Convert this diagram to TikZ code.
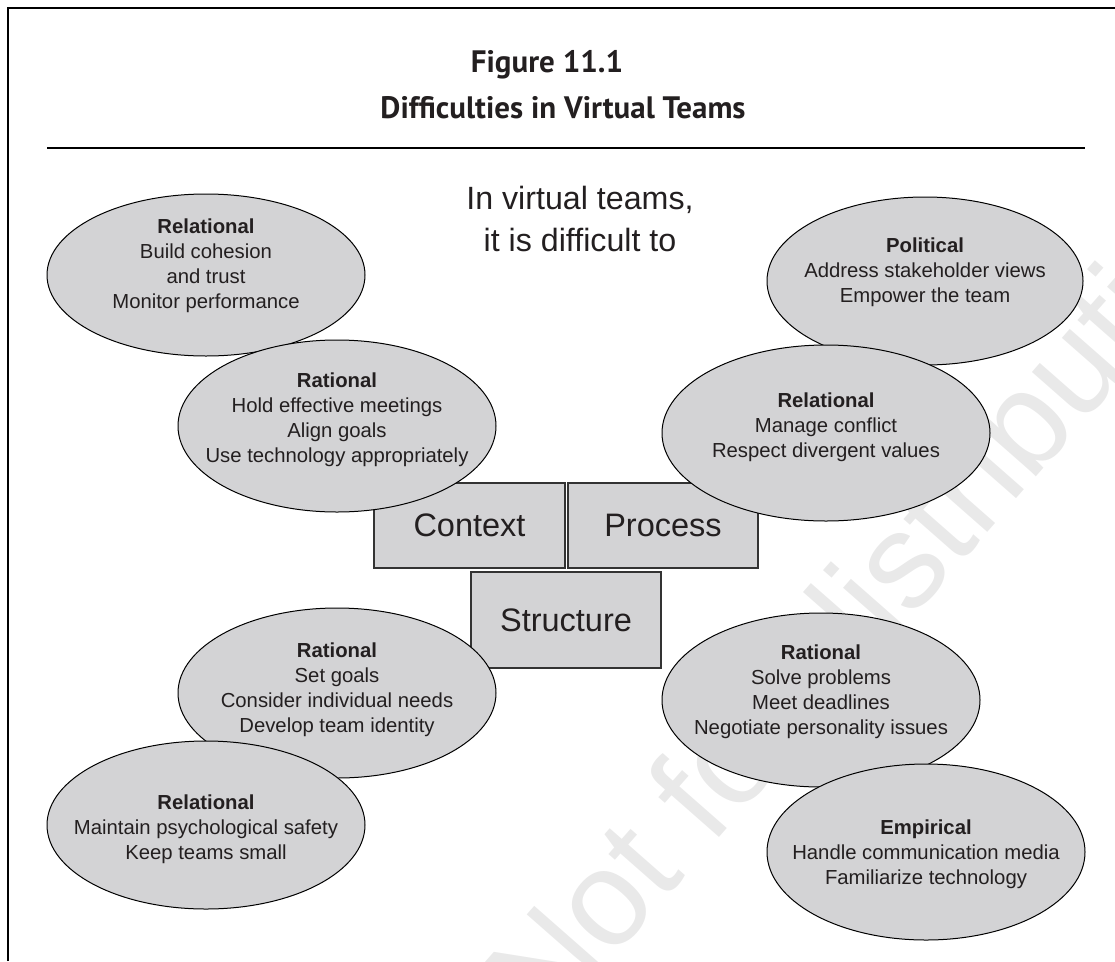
\documentclass[tikz,border=0pt]{standalone}
\usepackage{fontspec}
\setmainfont{Liberation Sans}
\newfontfamily\titlefont{PT Sans}
\usetikzlibrary{shapes.geometric}
\definecolor{ovalfill}{RGB}{211,211,213}
\definecolor{ink}{RGB}{35,31,32}
\definecolor{wmgray}{RGB}{233,233,233}
\begin{document}
\begin{tikzpicture}[x=1pt,y=-1pt,
  oval/.style={draw=black, line width=1pt, fill=ovalfill},
  ovaltext/.style={align=center, text=ink, inner sep=0pt,
    font=\fontsize{20.3}{25}\selectfont},
  corebox/.style={draw=black!80, line width=1.5pt, fill=ovalfill, text=ink,
    inner sep=0pt, font=\fontsize{32.5}{40}\selectfont,
    minimum width=191pt, minimum height=85pt},
  titletext/.style={anchor=base, text=ink, inner sep=0pt,
    font=\titlefont\bfseries\fontsize{31}{31}\selectfont},
  leadtext/.style={anchor=base, text=ink, inner sep=0pt,
    font=\fontsize{32.2}{42}\selectfont},
]
\useasboundingbox (0,0) rectangle (1115,961);

% watermark
\node[rotate=48.7, anchor=base west, text=wmgray, inner sep=0pt,
  font=\fontsize{136}{136}\selectfont] (wm) at (547,1034) {Not for distribution};

% frame and title rule
\coordinate (frameBL) at (8,961);
\coordinate (frameTL) at (8,8);
\coordinate (frameTR) at (1115,8);
\draw[line width=2.5pt] (frameBL) -- (frameTL) -- (frameTR);
\coordinate (ruleL) at (47,148);
\coordinate (ruleR) at (1085,148);
\draw[line width=2pt] (ruleL) -- (ruleR);

% title
\node[titletext] (fig) at (547,72) {Figure 11.1};
\node[titletext] (ttl) at (563,118) {Difficulties in Virtual Teams};

% lead-in
\node[leadtext] (lead1) at (580,209) {In virtual teams,};
\node[leadtext] (lead2) at (580,251) {it is difficult to};

% the three core boxes
\node[corebox] (context) at (469.5,525.5) {Context};
\node[corebox, minimum width=190pt] (process) at (663,525.5) {Process};
\node[corebox, minimum width=190pt, minimum height=96pt] (structure) at (566,620) {Structure};

% ovals
\draw[oval] (206,275) ellipse [x radius=159, y radius=81];
\node[ovaltext] (reltl) at (206,266) {\textbf{Relational}\\Build cohesion\\and trust\\Monitor performance};

\draw[oval] (337,426) ellipse [x radius=159, y radius=86];
\node[ovaltext] (rattl) at (337,420) {\textbf{Rational}\\Hold effective meetings\\Align goals\\Use technology appropriately};

\draw[oval] (925,281) ellipse [x radius=158, y radius=84];
\node[ovaltext] (pol) at (925,272) {\textbf{Political}\\Address stakeholder views\\Empower the team};

\draw[oval] (826,433) ellipse [x radius=164, y radius=88];
\node[ovaltext] (relr) at (826,427) {\textbf{Relational}\\Manage conflict\\Respect divergent values};

\draw[oval] (337,693) ellipse [x radius=159, y radius=85];
\node[ovaltext] (ratbl) at (337,690) {\textbf{Rational}\\Set goals\\Consider individual needs\\Develop team identity};

\draw[oval] (206,825) ellipse [x radius=159, y radius=84];
\node[ovaltext] (relbl) at (206,829) {\textbf{Relational}\\Maintain psychological safety\\Keep teams small};

\draw[oval] (821,700) ellipse [x radius=159, y radius=87];
\node[ovaltext] (ratr) at (821,692) {\textbf{Rational}\\Solve problems\\Meet deadlines\\Negotiate personality issues};

\draw[oval] (926,852) ellipse [x radius=159, y radius=88];
\node[ovaltext] (emp) at (926,854) {\textbf{Empirical}\\Handle communication media\\Familiarize technology};
\end{tikzpicture}
\end{document}
